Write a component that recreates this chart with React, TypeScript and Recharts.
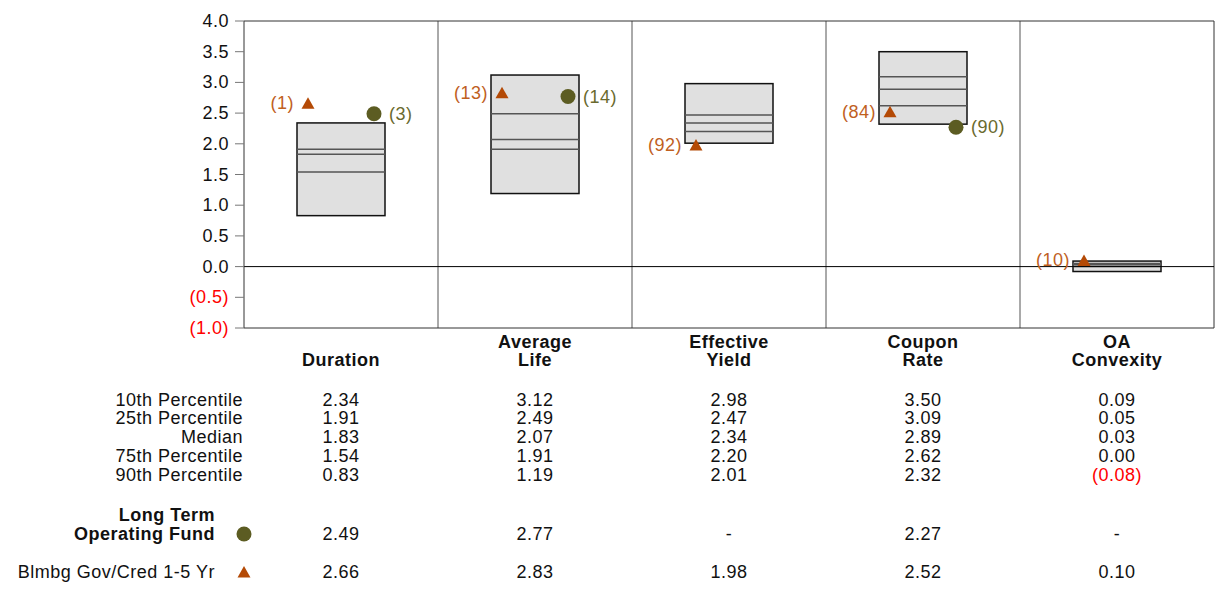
import React from 'react';
import { ComposedChart, Bar, Scatter, XAxis, YAxis, ReferenceLine } from 'recharts';

const FONT = '"Liberation Sans", Arial, Helvetica, sans-serif';
const FONT_SIZE = 18;
const SPACING = 0.5;

const categories = ['Duration', 'Average Life', 'Effective Yield', 'Coupon Rate', 'OA Convexity'];
const p10 = [2.34, 3.12, 2.98, 3.5, 0.09];
const p25 = [1.91, 2.49, 2.47, 3.09, 0.05];
const median = [1.83, 2.07, 2.34, 2.89, 0.03];
const p75 = [1.54, 1.91, 2.2, 2.62, 0.0];
const p90 = [0.83, 1.19, 2.01, 2.32, -0.08];
const fund = [2.49, 2.77, null, 2.27, null];
const fundRank = [3, 14, null, 90, null];
const bench = [2.66, 2.83, 1.98, 2.52, 0.1];
const benchRank = [1, 13, 92, 84, 10];
const yTicks = [-1, -0.5, 0, 0.5, 1, 1.5, 2, 2.5, 3, 3.5, 4];
const rowLabels = ['10th Percentile', '25th Percentile', 'Median', '75th Percentile', '90th Percentile'];

const BENCH_COLOR = '#b44a06';
const BENCH_TEXT = '#c0601e';
const FUND_COLOR = '#5c5c22';
const FUND_TEXT = '#6a6a2e';
const NEG = '#ff0000';

const data = categories.map((name, i) => ({
  name,
  range: [p90[i], p10[i]],
  p10: p10[i],
  p25: p25[i],
  median: median[i],
  p75: p75[i],
  p90: p90[i],
  fund: fund[i],
  fundRank: fundRank[i],
  bench: bench[i],
  benchRank: benchRank[i],
}));

// table rows under each category, offsets from the axis line
const ROW_Y = [72, 90, 109, 128, 147];
const FUND_Y = 206;
const BENCH_Y = 244;
const MARKER_DX = 33;

const fmt = (v: number | null, digits = 2) => {
  if (v == null) return '-';
  return v < 0 ? `(${Math.abs(v).toFixed(digits)})` : v.toFixed(digits);
};

const Triangle = ({ x, y }: { x: number; y: number }) => (
  <polygon points={`${x},${y - 6} ${x - 6.5},${y + 5.5} ${x + 6.5},${y + 5.5}`} fill={BENCH_COLOR} />
);

const BoxShape = (props: any) => {
  const { x, y, width, height, payload } = props;
  const top = Math.min(y, y + height);
  const h = Math.abs(height);
  const perUnit = h / (payload.p10 - payload.p90);
  const toY = (v: number) => top + (payload.p10 - v) * perUnit;
  return (
    <g>
      <rect x={x} y={top} width={width} height={h} fill="#e0e0e0" stroke="#111" strokeWidth={1.5} />
      {[payload.p25, payload.median, payload.p75].map((v: number, i: number) => (
        <line key={i} x1={x} x2={x + width} y1={toY(v)} y2={toY(v)} stroke="#555" strokeWidth={1.5} />
      ))}
    </g>
  );
};

const BenchShape = (props: any) => {
  const { cx, cy, payload } = props;
  if (payload.bench == null) return null;
  const x = cx - MARKER_DX;
  return (
    <g>
      <Triangle x={x} y={cy} />
      <text x={x - 14} y={cy} textAnchor="end" dominantBaseline="central" fill={BENCH_TEXT}
        fontSize={FONT_SIZE} letterSpacing={SPACING}>
        ({payload.benchRank})
      </text>
    </g>
  );
};

const FundShape = (props: any) => {
  const { cx, cy, payload } = props;
  if (payload.fund == null) return null;
  const x = cx + MARKER_DX;
  return (
    <g>
      <circle cx={x} cy={cy} r={7.5} fill={FUND_COLOR} />
      <text x={x + 15} y={cy} dominantBaseline="central" fill={FUND_TEXT}
        fontSize={FONT_SIZE} letterSpacing={SPACING}>
        ({payload.fundRank})
      </text>
    </g>
  );
};

const YTick = (props: any) => {
  const { x, y, payload } = props;
  const v = payload.value as number;
  return (
    <text x={x} y={y} textAnchor="end" dominantBaseline="central" fill={v < 0 ? NEG : '#111'}
      fontSize={FONT_SIZE} letterSpacing={SPACING}>
      {fmt(v, 1)}
    </text>
  );
};

// category name plus its column of statistics
const XTick = (props: any) => {
  const { x, y, payload, index } = props;
  const words = String(payload.value).split(' ');
  const lines = words.length === 1 ? ['', words[0]] : words;
  const col = [p10[index], p25[index], median[index], p75[index], p90[index]];
  const cell = (v: number | null, dy: number, key: string) => (
    <text key={key} x={x} y={y + dy} textAnchor="middle" dominantBaseline="central"
      fill={v != null && v < 0 ? NEG : '#111'} fontSize={FONT_SIZE} letterSpacing={SPACING}>
      {fmt(v)}
    </text>
  );
  return (
    <g>
      {lines.map((l, i) => (
        <text key={`n${i}`} x={x} y={y + 14 + i * 18} textAnchor="middle" dominantBaseline="central"
          fill="#111" fontSize={FONT_SIZE} fontWeight="bold" letterSpacing={SPACING}>
          {l}
        </text>
      ))}
      {col.map((v, i) => cell(v, ROW_Y[i], `r${i}`))}
      {cell(fund[index], FUND_Y, 'f')}
      {cell(bench[index], BENCH_Y, 'b')}
    </g>
  );
};

const App: React.FC = () => {
  return (
    <div style={{ position: 'absolute', left: 0, top: 0, width: 1217, height: 592, fontFamily: FONT, background: '#fff' }}>
      <ComposedChart width={1217} height={592} data={data} margin={{ top: 21, right: 3, left: 0, bottom: 0 }}
        style={{ fontFamily: FONT }}>
        <XAxis dataKey="name" type="category" height={264} axisLine={{ stroke: '#333' }} tickLine={false}
          tickSize={0} tickMargin={0} tick={<XTick />} interval={0} />
        <YAxis domain={[-1, 4]} ticks={yTicks} width={244} axisLine={{ stroke: '#333' }}
          tickLine={{ stroke: '#777' }} tickSize={9} tickMargin={6} tick={<YTick />} interval={0} />
        {/* column dividers at the right edge of each category band */}
        {categories.map((c, i) => (
          <ReferenceLine key={c} x={c} position="end" stroke={i < 4 ? '#555' : '#333'} strokeWidth={1} />
        ))}
        <ReferenceLine y={4} stroke="#333" strokeWidth={1} />
        <ReferenceLine y={0} stroke="#000" strokeWidth={1} />
        <Bar dataKey="range" barSize={88} shape={<BoxShape />} isAnimationActive={false} />
        <Scatter dataKey="bench" shape={<BenchShape />} isAnimationActive={false} />
        <Scatter dataKey="fund" shape={<FundShape />} isAnimationActive={false} />
      </ComposedChart>
      <svg width={1217} height={592} style={{ position: 'absolute', left: 0, top: 0, pointerEvents: 'none' }}
        fontFamily={FONT}>
        {rowLabels.map((l, i) => (
          <text key={l} x={243} y={328 + ROW_Y[i]} textAnchor="end" dominantBaseline="central" fill="#111"
            fontSize={FONT_SIZE} letterSpacing={SPACING}>
            {l}
          </text>
        ))}
        <text x={215} y={515} textAnchor="end" dominantBaseline="central" fill="#111" fontSize={FONT_SIZE}
          fontWeight="bold" letterSpacing={SPACING}>
          Long Term
        </text>
        <text x={215} y={534} textAnchor="end" dominantBaseline="central" fill="#111" fontSize={FONT_SIZE}
          fontWeight="bold" letterSpacing={SPACING}>
          Operating Fund
        </text>
        <circle cx={244} cy={534} r={7.5} fill={FUND_COLOR} />
        <text x={215} y={572} textAnchor="end" dominantBaseline="central" fill="#111" fontSize={FONT_SIZE}
          letterSpacing={SPACING}>
          Blmbg Gov/Cred 1-5 Yr
        </text>
        <Triangle x={244} y={572} />
      </svg>
    </div>
  );
};

export default App;
